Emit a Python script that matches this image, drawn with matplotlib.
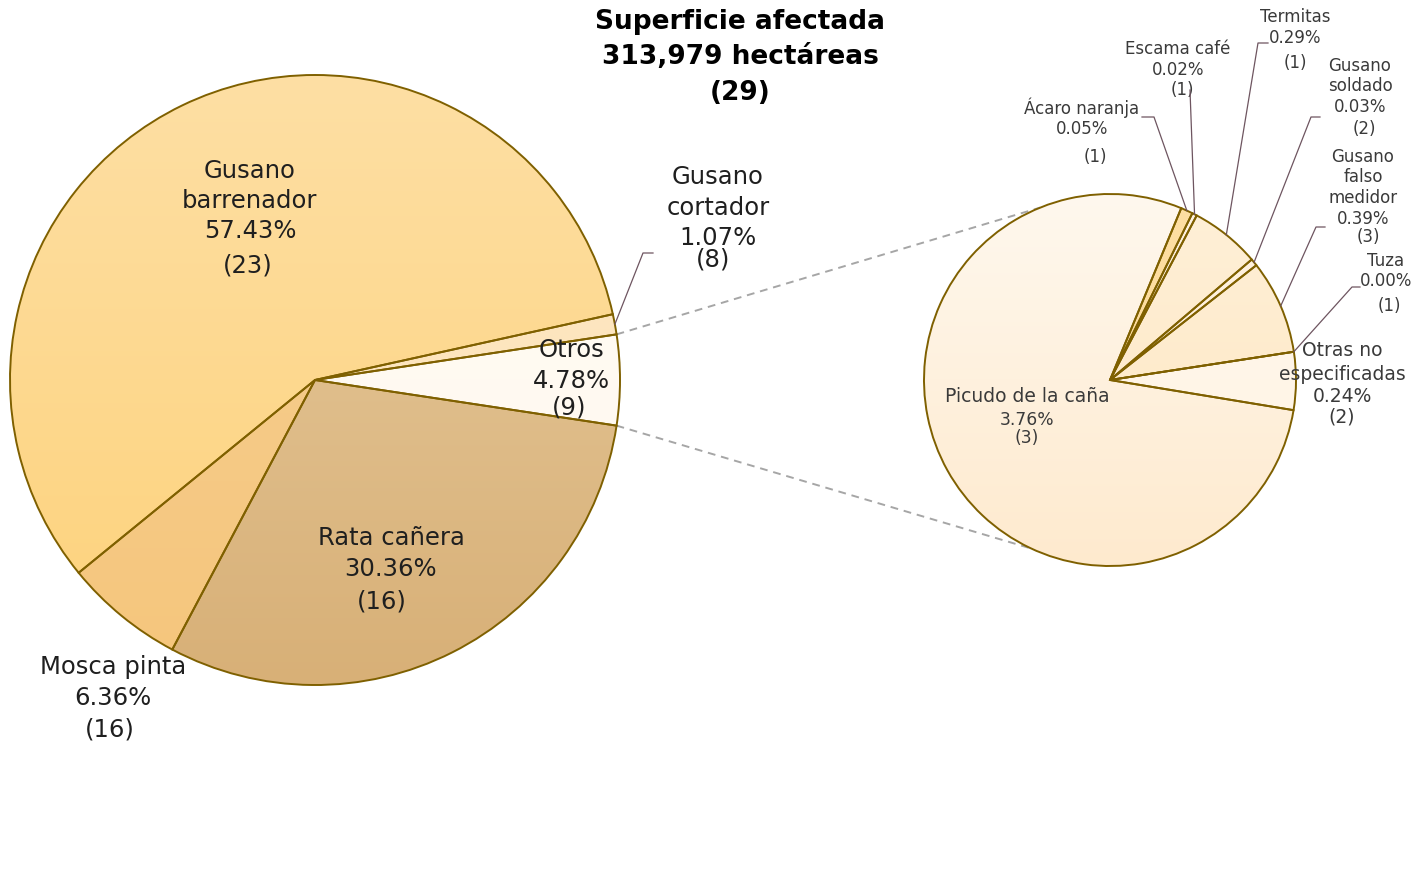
import numpy as np
import matplotlib
matplotlib.use('Agg')
from matplotlib import pyplot as plt
from matplotlib.colors import to_rgb

plt.rcParams['font.family'] = ['DejaVu Sans']

# main pie (order as drawn, counter-clockwise from the right)
main_labels = ['Otros', 'Gusano\ncortador', 'Gusano\nbarrenador', 'Mosca pinta', 'Rata cañera']
main_pct = [4.78, 1.07, 57.43, 6.36, 30.36]
main_count = [9, 8, 23, 16, 16]

# secondary pie (breakdown of "Otros")
sub_labels = ['Otras no\nespecificadas', 'Tuza', 'Gusano\nfalso\nmedidor', 'Gusano\nsoldado',
              'Termitas', 'Escama café', 'Ácaro naranja', 'Picudo de la caña']
sub_pct = [0.24, 0.00, 0.39, 0.03, 0.29, 0.02, 0.05, 3.76]
sub_count = [2, 1, 3, 2, 1, 1, 1, 3]

title = ['Superficie afectada', '313,979 hectáreas', '(29)']

W, H = 1413, 888
EDGE = '#7f6000'
LEAD = '#6e5560'

main_cols = [('#fffcf5', '#fff8ee'), ('#fde7c4', '#fde3b8'), ('#fedfa4', '#fdd27a'),
             ('#f6cf94', '#f5c67c'), ('#e7cca0', '#d8b077')]
sub_cols = [('#fff8ee', '#fff3e2'), ('#fff0d8', '#ffe9c8'), ('#fff0d8', '#fee6c0'),
            ('#fff3e2', '#ffecd0'), ('#fff0d8', '#fee6c0'), ('#fff3e2', '#ffecd0'),
            ('#fedfa4', '#fdd890'), ('#fff8ee', '#feeace')]

fig = plt.figure(figsize=(W / 100, H / 100), dpi=100)
ax = fig.add_axes([0, 0, 1, 1])


def py(y):
    return H - y


def grad(wedges, cols, cx, cy, r):
    for w, (ct, cb) in zip(wedges, cols):
        t = np.linspace(0, 1, 200)[:, None]
        img = (1 - t) * np.array(to_rgb(ct)) + t * np.array(to_rgb(cb))
        img = img[:, None, :]
        im = ax.imshow(img, extent=[cx - r, cx + r, cy - r, cy + r], origin='upper',
                       aspect='auto', zorder=0.5, interpolation='bilinear')
        im.set_clip_path(w)


c1 = (315, py(380)); r1 = 305
c2 = (1110, py(380)); r2 = 186

w1, _ = ax.pie(main_pct, center=c1, radius=r1, startangle=-main_pct[0] * 3.6 / 2,
               counterclock=True, wedgeprops=dict(facecolor='none', edgecolor=EDGE, linewidth=1.4))
w2, _ = ax.pie(sub_pct, center=c2, radius=r2, startangle=-sub_pct[0] / sum(sub_pct) * 360 / 2 - 0.3,
               counterclock=True, wedgeprops=dict(facecolor='none', edgecolor=EDGE, linewidth=1.4))
grad(w1, main_cols, c1[0], c1[1], r1)
grad(w2, sub_cols, c2[0], c2[1], r2)


def edge_pt(c, r, ang):
    a = np.deg2rad(ang)
    return c[0] + r * np.cos(a), c[1] + r * np.sin(a)


# dashed connectors between "Otros" and the secondary pie
p_top = edge_pt(c1, r1, w1[0].theta2)
p_bot = edge_pt(c1, r1, w1[0].theta1)
q_top = edge_pt(c2, r2, 112)
q_bot = edge_pt(c2, r2, 245)
ax.plot([p_top[0], q_top[0]], [p_top[1], q_top[1]], ls=(0, (4, 3)), color='#a6a6a6', lw=1.4, zorder=0.3)
ax.plot([p_bot[0], q_bot[0]], [p_bot[1], q_bot[1]], ls=(0, (4, 3)), color='#a6a6a6', lw=1.4, zorder=0.3)

TXT = '#1f1f1f'
TXT2 = '#3a3a3a'


def lab(x, ys, lines, size, color=TXT, **kw):
    for y, s in zip(ys, lines):
        ax.text(x, py(y), s, ha='center', va='center', fontsize=size, color=color, **kw)


def block(x, ys, name, pct, cnt, size, color=TXT, size2=None, dx_cnt=0):
    names = name.split('\n')
    lab(x, ys[:len(names)], names, size, color)
    lab(x, [ys[len(names)]], [f'{pct:.2f}%'], size2 or size, color)
    lab(x + dx_cnt, [ys[len(names) + 1]], [f'({cnt})'], size2 or size, color)


# main labels
block(250, [171, 201, 231, 265], main_labels[2], main_pct[2], main_count[2], 17.5, dx_cnt=-2)
block(718, [177, 208, 238, 260], main_labels[1], main_pct[1], main_count[1], 17.5, dx_cnt=-5)
block(571, [350, 381, 408], main_labels[0], main_pct[0], main_count[0], 17.5, dx_cnt=-2)
block(391, [538, 569, 601], main_labels[4], main_pct[4], main_count[4], 17.5, dx_cnt=-9)
block(113, [667, 698, 729], main_labels[3], main_pct[3], main_count[3], 17.5, dx_cnt=-3)

# title
lab(740, [22, 57, 93], title, 19, '#000000', fontweight='bold')

# secondary labels
block(1027, [397, 420, 438], sub_labels[7], sub_pct[7], sub_count[7], 13.5, TXT2, size2=12.3)
block(1342, [351, 374, 397, 417], sub_labels[0], sub_pct[0], sub_count[0], 13.5, TXT2)
block(1082, [108, 129, 157], sub_labels[6], sub_pct[6], sub_count[6], 12, TXT2, dx_cnt=13)
block(1178, [49, 70, 90], sub_labels[5], sub_pct[5], sub_count[5], 12, TXT2, dx_cnt=4)
block(1295, [17, 38, 63], sub_labels[4], sub_pct[4], sub_count[4], 12, TXT2)
block(1360, [66, 86, 107, 129], sub_labels[3], sub_pct[3], sub_count[3], 12, TXT2, dx_cnt=4)
block(1363, [157, 177, 198, 219, 237], sub_labels[2], sub_pct[2], sub_count[2], 12, TXT2, dx_cnt=5)
block(1386, [261, 281, 306], sub_labels[1], sub_pct[1], sub_count[1], 12, TXT2, dx_cnt=3)


# leader lines: wedge, pie centre, radius, elbow point, end point (pixels)
def leader(w, c, r, elbow, end):
    mid = (w.theta1 + w.theta2) / 2
    p = edge_pt(c, r, mid)
    xs = [p[0], elbow[0], end[0]]
    ys = [p[1], py(elbow[1]), py(end[1])]
    ax.plot(xs, ys, color=LEAD, lw=0.9, zorder=3)


leader(w1[1], c1, r1, (643, 253), (653, 253))
leader(w2[6], c2, r2, (1154, 117), (1142, 117))
leader(w2[5], c2, r2, (1190, 90), (1190, 90))
leader(w2[4], c2, r2, (1258, 43), (1268, 43))
leader(w2[3], c2, r2, (1311, 117), (1320, 117))
leader(w2[2], c2, r2, (1316, 227), (1325, 227))
leader(w2[1], c2, r2, (1352, 287), (1360, 287))

ax.set_xlim(0, W)
ax.set_ylim(0, H)
ax.set_aspect('auto')
ax.axis('off')
fig.savefig('out.png', dpi=100, facecolor='white')
